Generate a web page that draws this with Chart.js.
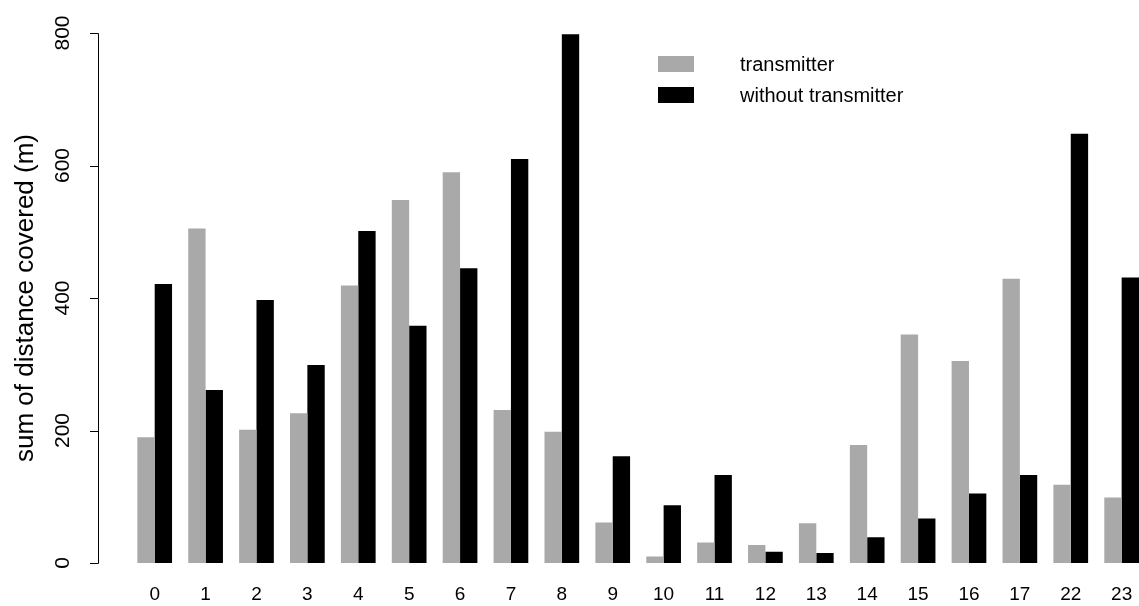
<!DOCTYPE html>
<html>
<head>
<meta charset="utf-8">
<title>Distance covered per hour</title>
<script src="https://cdn.jsdelivr.net/npm/chart.js@4/dist/chart.umd.min.js"></script>
<style>
  html, body { margin: 0; padding: 0; overflow: hidden; background: #ffffff; }
  #wrap { position: relative; width: 1160px; height: 606px; }
</style>
</head>
<body>
<div id="wrap"><canvas id="chart"></canvas></div>
<script>
// Hour of day
const hours = ['0', '1', '2', '3', '4', '5', '6', '7', '8', '9', '10', '11', '12', '13', '14', '15', '16', '17', '22', '23'];
// Sum of distance covered (m), tagged with a transmitter
const withTransmitter = [190, 505, 201, 226, 419, 548, 590, 231, 198, 61, 10, 31, 27, 60, 178, 345, 305, 429, 118, 99];
// Sum of distance covered (m), without a transmitter
const withoutTransmitter = [421, 261, 397, 299, 501, 358, 445, 610, 798, 161, 87, 133, 17, 15, 39, 67, 105, 133, 648, 431];
// Y axis tick values
const yTicks = [0, 200, 400, 600, 800];
const seriesNames = ['transmitter', 'without transmitter'];
const yTitle = 'sum of distance covered (m)';

const FONT = '"Liberation Sans", Arial, Helvetica, sans-serif';

// R-style detached y axis, rotated labels, axis title and legend
const rDecor = {
  id: 'rDecor',
  afterDraw(chart) {
    const ctx = chart.ctx;
    const y = chart.scales.y;
    const axisX = 98;
    ctx.save();
    ctx.strokeStyle = '#000000';
    ctx.lineWidth = 1;
    ctx.beginPath();
    const yTop = Math.round(y.getPixelForValue(yTicks[yTicks.length - 1])) + 0.5;
    const yBot = Math.round(y.getPixelForValue(yTicks[0])) + 0.5;
    ctx.moveTo(axisX + 0.5, yTop);
    ctx.lineTo(axisX + 0.5, yBot);
    yTicks.forEach(v => {
      const py = Math.round(y.getPixelForValue(v)) + 0.5;
      ctx.moveTo(axisX + 0.5, py);
      ctx.lineTo(axisX - 8, py);
    });
    ctx.stroke();

    ctx.fillStyle = '#000000';
    ctx.textAlign = 'center';
    ctx.textBaseline = 'middle';
    ctx.font = '21px ' + FONT;
    yTicks.forEach(v => {
      const py = y.getPixelForValue(v);
      ctx.save();
      ctx.translate(63.5, py);
      ctx.rotate(-Math.PI / 2);
      ctx.fillText(String(v), 0, 0);
      ctx.restore();
    });

    ctx.font = '26px ' + FONT;
    ctx.save();
    ctx.translate(26, (y.top + y.bottom) / 2);
    ctx.rotate(-Math.PI / 2);
    ctx.fillText(yTitle, 0, 0);
    ctx.restore();

    // legend
    ctx.textAlign = 'left';
    ctx.font = '20px ' + FONT;
    chart.data.datasets.forEach((ds, i) => {
      const cy = 64 + i * 31;
      ctx.fillStyle = ds.backgroundColor;
      ctx.fillRect(658, cy - 8, 36, 16);
      ctx.fillStyle = '#000000';
      ctx.fillText(ds.label, 740, cy + 1);
    });
    ctx.restore();
  }
};

new Chart(document.getElementById('chart'), {
  type: 'bar',
  data: {
    labels: hours,
    datasets: [
      { label: seriesNames[0], data: withTransmitter, backgroundColor: '#a9a9a9', borderWidth: 0 },
      { label: seriesNames[1], data: withoutTransmitter, backgroundColor: '#000000', borderWidth: 0 }
    ]
  },
  options: {
    responsive: true,
    maintainAspectRatio: false,
    animation: false,
    events: [],
    layout: { padding: { left: 129.25, right: 12.9, top: 33, bottom: 0 } },
    datasets: { bar: { categoryPercentage: 0.682, barPercentage: 1.0 } },
    plugins: {
      legend: { display: false },
      tooltip: { enabled: false },
      title: { display: false }
    },
    scales: {
      x: {
        grid: { display: false, drawTicks: false },
        border: { display: false },
        ticks: {
          color: '#000000',
          font: { family: FONT, size: 19 },
          padding: 20,
          maxRotation: 0,
          autoSkip: false
        },
        afterFit(scale) { scale.height = 43; }
      },
      y: {
        display: false,
        min: 0,
        max: 800
      }
    }
  },
  plugins: [rDecor]
});
</script>
</body>
</html>
